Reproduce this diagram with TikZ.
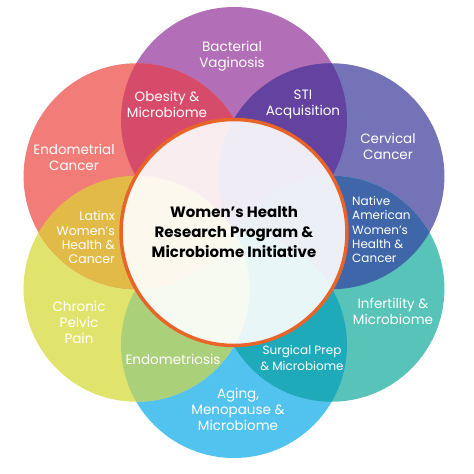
\documentclass[tikz,border=0pt]{standalone}
\usepackage{fontspec}
\setmainfont{Poppins}
\usetikzlibrary{positioning}

\definecolor{bvpurple}{RGB}{178,110,182}
\definecolor{ccblue}{RGB}{117,115,184}
\definecolor{infteal}{RGB}{88,195,185}
\definecolor{ammblue}{RGB}{82,195,238}
\definecolor{cppyellow}{RGB}{225,228,108}
\definecolor{ecsalmon}{RGB}{241,124,120}
\definecolor{obmagenta}{RGB}{214,74,106}
\definecolor{stipurple}{RGB}{99,66,160}
\definecolor{nanavy}{RGB}{62,102,168}
\definecolor{spteal}{RGB}{30,170,185}
\definecolor{engreen}{RGB}{170,208,122}
\definecolor{lxgold}{RGB}{226,186,72}
\definecolor{ringorange}{RGB}{232,100,40}

\tikzset{
  petal/.style={circle, minimum size=226pt, inner sep=0pt},
  lbl/.style={text=white, align=center, inner sep=0pt, font=\fontsize{13.5}{16}\selectfont},
  hub/.style={circle, minimum size=226pt, inner sep=0pt, draw=ringorange, line width=3.5pt,
    fill=white, fill opacity=0.9, text opacity=1, align=center,
    font=\bfseries\fontsize{15}{20}\selectfont}
}

\begin{document}
\begin{tikzpicture}[x=1pt,y=1pt]
    \useasboundingbox (0,0) rectangle (474,474);
    \coordinate (ctr) at (234,241.5);

    % six research areas round the centre
    \node[petal,fill=bvpurple]  (bv)  at ([shift={(90:112.5)}]ctr) {};
    \node[petal,fill=ccblue]    (cc)  at ([shift={(30:112.5)}]ctr) {};
    \node[petal,fill=infteal]   (inf) at ([shift={(-30:112.5)}]ctr) {};
    \node[petal,fill=ammblue]   (amm) at ([shift={(-90:112.5)}]ctr) {};
    \node[petal,fill=cppyellow] (cpp) at ([shift={(-150:112.5)}]ctr) {};
    \node[petal,fill=ecsalmon]  (ec)  at ([shift={(150:112.5)}]ctr) {};

    % overlaps
    \begin{scope}\clip (bv.center) circle (113pt); \fill[obmagenta] (ec.center) circle (113pt);\end{scope}
    \begin{scope}\clip (bv.center) circle (113pt); \fill[stipurple] (cc.center) circle (113pt);\end{scope}
    \begin{scope}\clip (cc.center) circle (113pt); \fill[nanavy] (inf.center) circle (113pt);\end{scope}
    \begin{scope}\clip (inf.center) circle (113pt); \fill[spteal] (amm.center) circle (113pt);\end{scope}
    \begin{scope}\clip (amm.center) circle (113pt); \fill[engreen] (cpp.center) circle (113pt);\end{scope}
    \begin{scope}\clip (cpp.center) circle (113pt); \fill[lxgold] (ec.center) circle (113pt);\end{scope}

    \node[hub] (hub) at (ctr) {Women’s Health\\Research Program \&\\Microbiome Initiative};

    \node[lbl] (bvtext)  at (232,418)   {Bacterial\\Vaginosis};
    \node[lbl] (obtext)  at (167,369.5) {Obesity \&\\Microbiome};
    \node[lbl] (stitext) at (303,369.5) {STI\\Acquisition};
    \node[lbl] (cctext)  at (388,328)   {Cervical\\Cancer};
    \node[lbl] (ectext)  at (74,317)    {Endometrial\\Cancer};
    \node[lbl,align=left,anchor=west,font=\fontsize{12}{14.2}\selectfont]
        (natext) at (352,244.5) {Native\\American\\Women’s\\Health \&\\Cancer};
    \node[lbl,align=right,anchor=east,font=\fontsize{12.5}{14.2}\selectfont]
        (lxtext) at (115,236.5) {Latinx\\Women’s\\Health \&\\Cancer};
    \node[lbl] (cpptext) at (79,152)    {Chronic\\Pelvic\\Pain};
    \node[lbl] (inftext) at (393,162.5) {Infertility \&\\Microbiome};
    \node[lbl] (entext)  at (173,115)   {Endometriosis};
    \node[lbl,font=\fontsize{12}{16}\selectfont] (sptext) at (302,116) {Surgical Prep\\\& Microbiome};
    \node[lbl] (ammtext) at (238,65)    {Aging,\\Menopause \&\\Microbiome};
\end{tikzpicture}
\end{document}
